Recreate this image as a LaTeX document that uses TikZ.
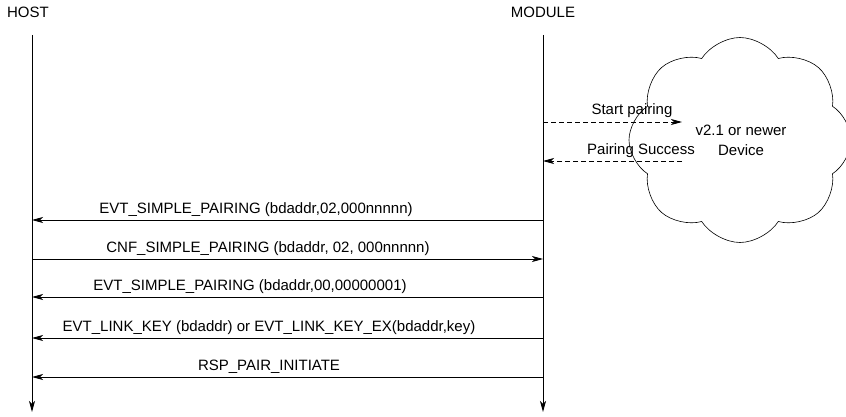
\documentclass[tikz,border=0pt]{standalone}
\usepackage{fontspec}
\setmainfont{Liberation Sans}
\usetikzlibrary{arrows.meta,shapes.symbols}
\begin{document}
\begin{tikzpicture}[x=1pt,y=-1pt,font=\fontsize{15}{18}\selectfont,
  every node/.style={inner sep=0pt},
  life/.style={draw, line width=1pt, -{Stealth[length=11pt,width=6pt,inset=3pt]}},
  msg/.style={draw, line width=0.8pt, -{Stealth[length=11pt,width=6pt,inset=3pt]}},
  async/.style={msg, dashed, dash pattern=on 5pt off 3pt}]
  \useasboundingbox (0,0) rectangle (846,417);
  % lifelines
  \node (host) at (28,12) {HOST};
  \node (mod) at (543,12) {MODULE};
  \coordinate (hT) at (32,35);
  \coordinate (hB) at (32,412);
  \coordinate (mT) at (543,35);
  \coordinate (mB) at (543,412);
  \draw[life] (hT) -- (hB);
  \draw[life] (mT) -- (mB);
  % remote device
  \node[cloud, draw, line width=0.6pt, cloud puffs=8, cloud puff arc=115, aspect=1.1,
    minimum width=222pt, minimum height=205pt] (dev) at (740,140) {};
  \node[align=center] (devtxt) at (741,140) {v2.1 or newer\\[2pt]Device};
  \coordinate (sp) at (682,122);
  \coordinate (ps) at (682,161);
  \draw[async] (mT |- sp) -- (sp);
  \draw[async] (ps) -- (mT |- ps);
  \node (spl) at (632,111) {Start pairing};
  \node (psl) at (641,151) {Pairing Success};
  % messages
  \coordinate (m1) at (543,220);
  \coordinate (m2) at (32,259);
  \coordinate (m3) at (543,297);
  \coordinate (m4) at (543,338);
  \coordinate (m5) at (543,377);
  \draw[msg] (m1) -- (hT |- m1);
  \draw[msg] (m2) -- (mT |- m2);
  \draw[msg] (m3) -- (hT |- m3);
  \draw[msg] (m4) -- (hT |- m4);
  \draw[msg] (m5) -- (hT |- m5);
  \node (l1) at (256,210) {EVT\_SIMPLE\_PAIRING (bdaddr,02,000nnnnn)};
  \node (l2) at (268,249) {CNF\_SIMPLE\_PAIRING (bdaddr, 02, 000nnnnn)};
  \node (l3) at (250,287) {EVT\_SIMPLE\_PAIRING (bdaddr,00,00000001)};
  \node (l4) at (269,328) {EVT\_LINK\_KEY (bdaddr) or EVT\_LINK\_KEY\_EX(bdaddr,key)};
  \node (l5) at (269,367) {RSP\_PAIR\_INITIATE};
\end{tikzpicture}
\end{document}
